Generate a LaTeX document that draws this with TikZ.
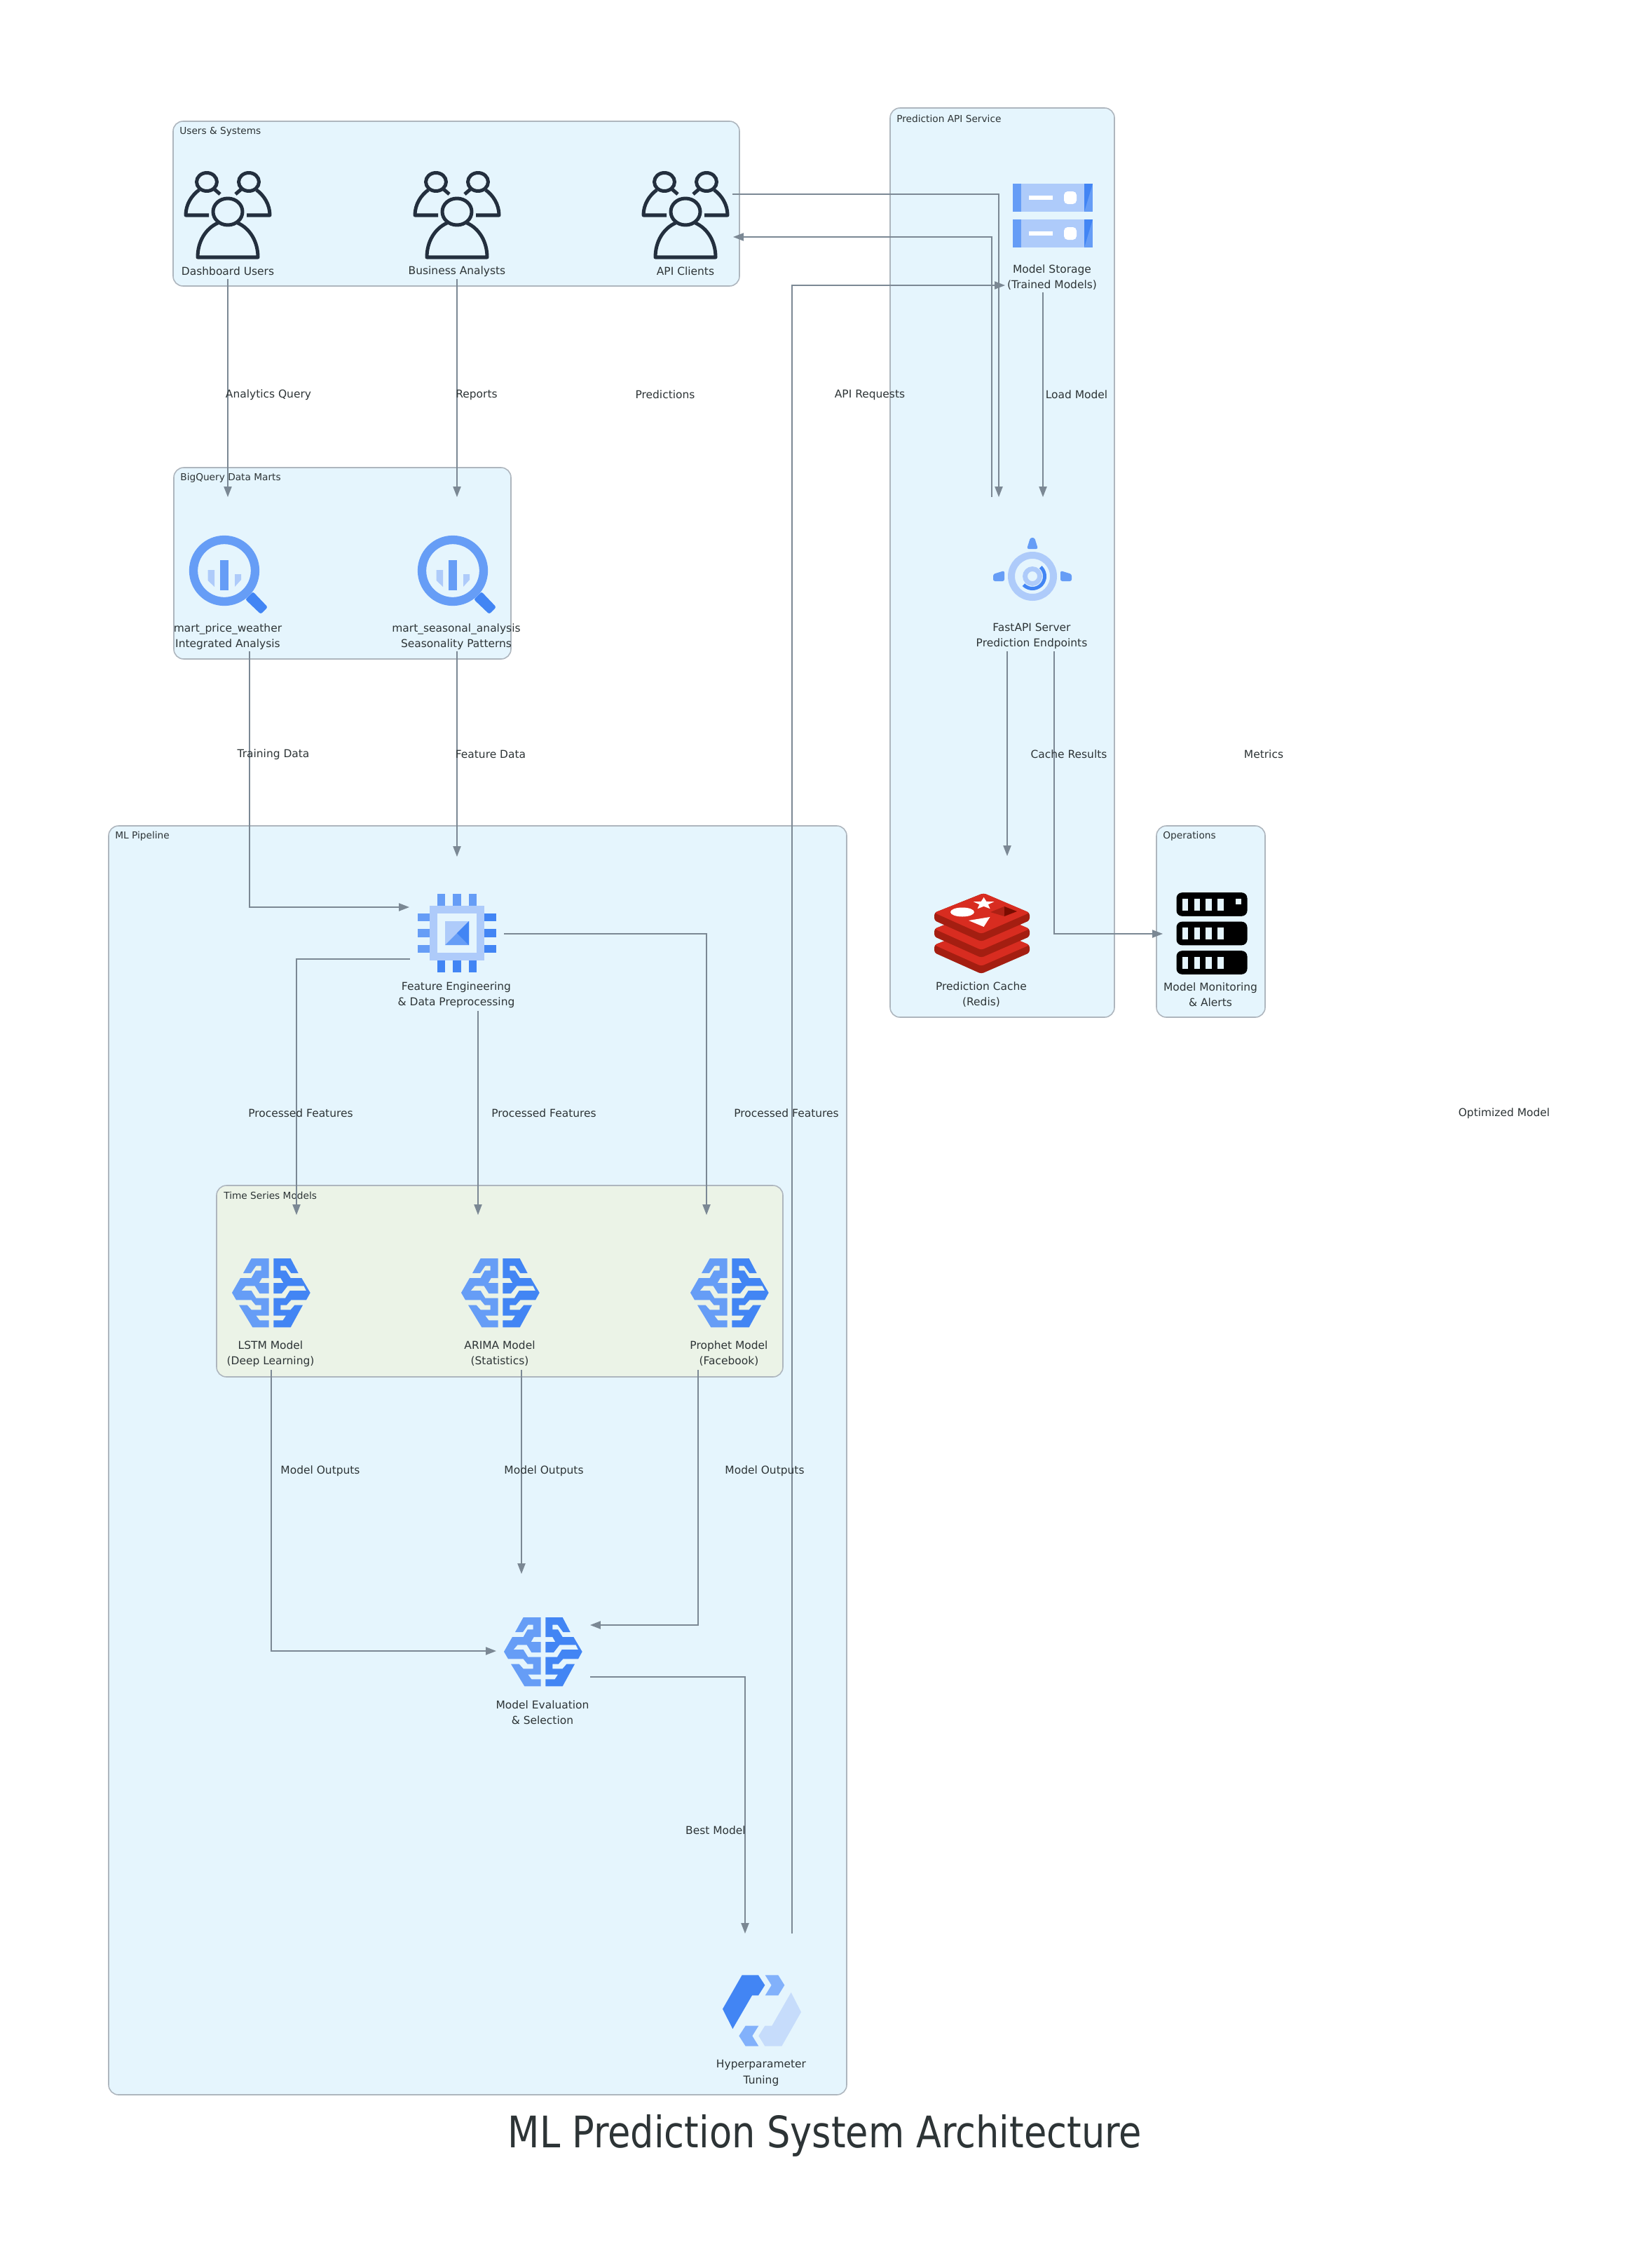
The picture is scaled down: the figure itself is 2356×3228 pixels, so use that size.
\documentclass[tikz,border=0pt]{standalone}
\usepackage{fontspec}
\usetikzlibrary{arrows.meta}
\setmainfont{DejaVu Sans}
\newfontfamily\titlefont[FakeStretch=0.848]{DejaVu Sans}
\definecolor{clbg}{HTML}{E5F5FD}
\definecolor{clgreen}{HTML}{EBF3E7}
\definecolor{clborder}{HTML}{AEB6BE}
\definecolor{edgecol}{HTML}{7B8894}
\definecolor{txt}{HTML}{2D3436}
\definecolor{gblue}{HTML}{4285F4}
\definecolor{gmid}{HTML}{669DF6}
\definecolor{glight}{HTML}{AECBFA}
\definecolor{gpale}{HTML}{C6DCFB}
\definecolor{gchev}{HTML}{82B1FB}
\definecolor{people}{HTML}{232F3E}
\definecolor{redisA}{HTML}{D82C20}
\definecolor{redisB}{HTML}{A41E11}
\definecolor{redisC}{HTML}{AD2115}
\definecolor{redisD}{HTML}{7A0C00}
\tikzset{
  cluster/.style={draw=clborder,fill=clbg,line width=0.9pt,rounded corners=8pt},
  clustergreen/.style={cluster,fill=clgreen},
  clusterlabel/.style={anchor=west,inner sep=0pt,text=txt,font=\fontsize{7.8}{10}\selectfont},
  iconlabel/.style={align=center,inner sep=0pt,text=txt,font=\fontsize{8.8}{12.6}\selectfont},
  edgelabel/.style={inner sep=0pt,text=txt,font=\fontsize{8.8}{12.6}\selectfont},
  link/.style={draw=edgecol,line width=0.75pt,-{Triangle[length=8.5pt,width=6.4pt]}},
  peopleicon/.pic={
    \begin{scope}[draw=people,line width=2.85pt,line join=round]
      \draw (-30,-47.5) ellipse [x radius=14.5,y radius=13];
      \draw (30,-47.5) ellipse [x radius=14.5,y radius=13];
      \draw (-27,0) -- (-60,0) .. controls (-60,-15) and (-52,-28) .. (-41,-36);
      \draw (27,0) -- (60,0) .. controls (60,-15) and (52,-28) .. (41,-36);
      \draw (-19,-37) -- (-11,-30);
      \draw (19,-37) -- (11,-30);
      \draw (0,-5) ellipse [x radius=21,y radius=19];
      \draw (-14,11) .. controls (-32,19) and (-43,38) .. (-43,60) -- (43,60) .. controls (43,38) and (32,19) .. (14,11);
    \end{scope}
  },
  bqicon/.pic={
    \fill[gblue,rounded corners=1.5pt] (30,41) -- (52,62) -- (62,52) -- (41,30) -- cycle;
    \draw[gmid,line width=7pt] (0,0) circle [radius=44];
    \fill[gmid] (-6,-15) rectangle (6,28);
    \fill[glight] (-23.5,-1) -- (-14,-1) -- (-14,23) -- (-23.5,14) -- cycle;
    \fill[glight] (15,5) -- (24,5) -- (24,13) -- (15,23) -- cycle;
  },
  storageblock/.pic={
    \fill[glight] (-57,-20) rectangle (57,20);
    \fill[gmid] (-57,-20) rectangle (-45,20);
    \fill[gmid] (45,-20) rectangle (57,20);
    \fill[gblue] (45,-20) -- (57,-20) -- (45,20) -- cycle;
    \fill[white] (-34,-3) rectangle (0,3);
    \fill[white,rounded corners=3pt] (16,-9) rectangle (34,9);
  },
  engineicon/.pic={
    \draw[glight,line width=5.69pt] (0,0) circle [radius=30];
    \draw[glight,line width=3.9pt] (0,0) circle [radius=10.5];
    \draw[gblue,line width=2.85pt] plot[domain=-48:136,samples=30] ({17.5*cos(\x)},{17.5*sin(\x)});
    \fill[gmid,rounded corners=1.5pt] (-8,-39) -- (8,-39) -- (3,-55) -- (-3,-55) -- cycle;
    \fill[gmid,rounded corners=1.5pt] (-40,-8) -- (-40,7) -- (-56,7) -- (-56,-3) -- cycle;
    \fill[gmid,rounded corners=1.5pt] (40,-8) -- (40,7) -- (56,7) -- (56,-3) -- cycle;
  },
  chipicon/.pic={
    \foreach \a in {-22.5,0,22.5}{
      \fill[gmid] ({\a-5.6},-56) rectangle ({\a+5.6},-39);
      \fill[gblue] ({\a-5.6},39) rectangle ({\a+5.6},56);
      \fill[gmid] (-56,{\a-5.6}) rectangle (-39,{\a+5.6});
      \fill[gblue] (39,{\a-5.6}) rectangle (56,{\a+5.6});
    }
    \draw[glight,line width=6.26pt] (-33.5,-33.5) rectangle (33.5,33.5);
    \fill[glight] (-17,-17) rectangle (17,17);
    \fill[gmid] (17,17) -- (-17,17) -- (17,-17) -- cycle;
    \fill[gblue] (17,-17) -- (17,17) -- (0,0) -- cycle;
  },
  brainicon/.pic={
    \begin{scope}[x=0.00667cm,y=-0.00667cm,shift={(-195,-197)}]
      \fill[gmid] (110,50) -- (185,50) -- (185,134) -- (155,134) -- (143,155) -- (185,155) -- (185,200) -- (145,200) -- (125,168) -- (85,168) -- (68,188) -- (110,188) -- (130,220) -- (185,220) -- (185,295) -- (130,295) -- (145,315) -- (185,315) -- (185,345) -- (115,345) -- (57,250) -- (92,250) -- (110,270) -- (152,270) -- (152,250) -- (128,250) -- (110,228) -- (45,228) -- (27,197) -- (63,134) -- (110,134) -- (128,102) -- (152,102) -- (152,82) -- (130,82) -- (108,113) -- (75,113) -- cycle;
      \fill[gblue] (205,50) -- (278,50) -- (311,113) -- (280,113) -- (257,82) -- (235,82) -- (235,102) -- (258,102) -- (278,134) -- (325,134) -- (362,197) -- (345,228) -- (280,228) -- (260,250) -- (235,250) -- (235,270) -- (278,270) -- (295,250) -- (330,250) -- (278,345) -- (205,345) -- (205,315) -- (245,315) -- (258,295) -- (205,295) -- (205,220) -- (255,220) -- (275,188) -- (345,188) -- (335,168) -- (265,168) -- (240,200) -- (205,200) -- (205,155) -- (247,155) -- (235,134) -- (205,134) -- cycle;
    \end{scope}
  },
  cycleicon/.pic={
    \begin{scope}[x=0.00667cm,y=-0.00667cm,shift={(-380,-444)}]
      \fill[gblue] (295,292) -- (365,292) -- (393,335) -- (365,379) -- (338,379) -- (255,522) -- (212,437) -- cycle;
      \fill[gpale] (505,366) -- (548,450) -- (465,596) -- (393,596) -- (366,552) -- (393,509) -- (423,509) -- cycle;
      \fill[gchev] (394,292) -- (450,292) -- (477,335) -- (450,379) -- (394,379) -- (421,335) -- cycle;
      \fill[gchev] (310,509) -- (366,509) -- (339,552) -- (366,596) -- (310,596) -- (282,552) -- cycle;
    \end{scope}
  },
  redisicon/.pic={
    \foreach \d in {46,23,0}{
      \fill[redisB,rounded corners=2pt] (-68,{-29+\d}) -- (-68,{-18+\d}) -- (-1,{12+\d}) -- (68,{-18+\d}) -- (68,{-29+\d}) -- (2,{-57+\d}) -- cycle;
      \fill[redisA,rounded corners=2pt] (2.6,{-57+\d}) -- (-68,{-29+\d}) -- (-1,{1+\d}) -- (68,{-29+\d}) -- cycle;
    }
    \fill[white] (2.6,-51) -- (6.4,-45.1) -- (17.3,-44.8) -- (8.8,-40.8) -- (11.7,-34.7) -- (2.6,-38.2) -- (-6.5,-34.7) -- (-3.6,-40.8) -- (-12.1,-44.8) -- (-1.2,-45.1) -- cycle;
    \fill[white] (-28,-30) ellipse [x radius=17,y radius=6.5];
    \fill[white] (-19,-18) -- (11.5,-23) -- (2.6,-9) -- cycle;
    \fill[redisC] (12,-30) -- (32,-38) -- (32,-24) -- cycle;
    \fill[redisD] (32,-38) -- (50,-31) -- (32,-24) -- cycle;
  },
  monitoricon/.pic={
    \foreach \b in {-41.5,0,41.5}{
      \fill[black,rounded corners=4.5pt] (-50.5,{\b-16.8}) rectangle (50.5,{\b+16.8});
      \foreach \c in {-42.5,-25.5,-9,8}{
        \fill[clbg] (\c,{\b-8.5}) rectangle ({\c+8.5},{\b+8.5});
      }
    }
    \fill[clbg] (33.5,-50) rectangle (42,-42);
  }
}
\begin{document}
\begin{tikzpicture}[x=0.02cm,y=-0.02cm]
\useasboundingbox (0,0) rectangle (2356,3228);
\fill[white] (0,0) rectangle (2356,3228);

% clusters
\draw[cluster] (247,173) rectangle (1055,408);
\node[clusterlabel] (c-users) at (256,188) {Users \& Systems};
\draw[cluster] (1270,154) rectangle (1590,1451);
\node[clusterlabel] (c-api) at (1279,169) {Prediction API Service};
\draw[cluster] (248,667) rectangle (729,940);
\node[clusterlabel] (c-marts) at (257,682) {BigQuery Data Marts};
\draw[cluster] (155,1178) rectangle (1208,2988);
\node[clusterlabel] (c-ml) at (164,1193) {ML Pipeline};
\draw[cluster] (1650,1178) rectangle (1805,1451);
\node[clusterlabel] (c-ops) at (1659,1193) {Operations};
\draw[clustergreen] (309,1691) rectangle (1117,1964);
\node[clusterlabel] (c-ts) at (319,1705) {Time Series Models};

% icons
\pic (i-dash) at (325,307) {peopleicon};
\pic (i-biz) at (652,307) {peopleicon};
\pic (i-apic) at (978,307) {peopleicon};
\pic (i-m1) at (320,814) {bqicon};
\pic (i-m2) at (646,814) {bqicon};
\pic (i-st1) at (1502,282) {storageblock};
\pic (i-st2) at (1502,333) {storageblock};
\pic (i-fast) at (1473,822) {engineicon};
\pic (i-redis) at (1401,1331) {redisicon};
\pic (i-mon) at (1729,1331.5) {monitoricon};
\pic (i-chip) at (652,1331) {chipicon};
\pic (i-lstm) at (387,1844) {brainicon};
\pic (i-arima) at (714,1844) {brainicon};
\pic (i-prophet) at (1041,1844) {brainicon};
\pic (i-eval) at (775,2356) {brainicon};
\pic (i-hyper) at (1087,2868) {cycleicon};

% icon labels
\node[iconlabel] (n-dash) at (325,387) {Dashboard Users};
\node[iconlabel] (n-biz) at (652,387) {Business Analysts};
\node[iconlabel] (n-apic) at (978,387) {API Clients};
\node[iconlabel] (n-m1) at (325,908.5) {mart\_price\_weather\\Integrated Analysis};
\node[iconlabel] (n-m2) at (651,908.5) {mart\_seasonal\_analysis\\Seasonality Patterns};
\node[iconlabel] (n-st) at (1501,395.5) {Model Storage\\(Trained Models)};
\node[iconlabel] (n-fast) at (1472,907.5) {FastAPI Server\\Prediction Endpoints};
\node[iconlabel] (n-redis) at (1400,1419) {Prediction Cache\\(Redis)};
\node[iconlabel] (n-mon) at (1727,1419) {Model Monitoring\\\& Alerts};
\node[iconlabel] (n-chip) at (651,1419.5) {Feature Engineering\\\& Data Preprocessing};
\node[iconlabel] (n-lstm) at (386,1931) {LSTM Model\\(Deep Learning)};
\node[iconlabel] (n-arima) at (713,1931) {ARIMA Model\\(Statistics)};
\node[iconlabel] (n-prophet) at (1040,1931) {Prophet Model\\(Facebook)};
\node[iconlabel] (n-eval) at (774,2443) {Model Evaluation\\\& Selection};
\node[iconlabel] (n-hyper) at (1086,2957) {Hyperparameter\\Tuning};

% connector ends
\coordinate (p-dash) at (325,398);
\coordinate (p-m1in) at (325,709);
\coordinate (p-biz) at (652,398);
\coordinate (p-m2in) at (652,709);
\coordinate (p-apiout) at (1045,277);
\coordinate (p-apiinb) at (1425,709);
\coordinate (p-fastout) at (1415,709);
\coordinate (p-apicin) at (1046,338);
\coordinate (p-hyout) at (1130,2758);
\coordinate (p-stin) at (1434,407);
\coordinate (p-stout) at (1488,417);
\coordinate (p-fastin) at (1488,709);
\coordinate (p-fc) at (1437,929);
\coordinate (p-redisin) at (1437,1221);
\coordinate (p-fm) at (1504,929);
\coordinate (p-monin) at (1659,1332);
\coordinate (p-m1out) at (356,929);
\coordinate (p-chipin1) at (584,1294);
\coordinate (p-m2out) at (652,929);
\coordinate (p-chipin2) at (652,1222);
\coordinate (p-c1) at (585,1368);
\coordinate (p-lstmin) at (423,1733);
\coordinate (p-c2) at (682,1442);
\coordinate (p-arimain) at (682,1733);
\coordinate (p-c3) at (719,1332);
\coordinate (p-prophetin) at (1008,1733);
\coordinate (p-lout) at (387,1954);
\coordinate (p-evalin1) at (708,2355);
\coordinate (p-aout) at (744,1954);
\coordinate (p-evalin2) at (744,2245);
\coordinate (p-pout) at (996,1954);
\coordinate (p-evalin3) at (842,2318);
\coordinate (p-evout) at (842,2392);
\coordinate (p-hyin) at (1063,2758);

% connectors
\draw[link] (p-dash) -- (p-m1in);
\draw[link] (p-biz) -- (p-m2in);
\draw[link] (p-apiout) -| (p-apiinb);
\draw[link] (p-fastout) |- (p-apicin);
\draw[link] (p-hyout) |- (p-stin);
\draw[link] (p-stout) -- (p-fastin);
\draw[link] (p-fc) -- (p-redisin);
\draw[link] (p-fm) |- (p-monin);
\draw[link] (p-m1out) |- (p-chipin1);
\draw[link] (p-m2out) -- (p-chipin2);
\draw[link] (p-c1) -| (p-lstmin);
\draw[link] (p-c2) -- (p-arimain);
\draw[link] (p-c3) -| (p-prophetin);
\draw[link] (p-lout) |- (p-evalin1);
\draw[link] (p-aout) -- (p-evalin2);
\draw[link] (p-pout) |- (p-evalin3);
\draw[link] (p-evout) -| (p-hyin);

% connector labels
\node[edgelabel] (e-1) at (383,563) {Analytics Query};
\node[edgelabel] (e-2) at (680,563) {Reports};
\node[edgelabel] (e-3) at (949,563) {Predictions};
\node[edgelabel] (e-4) at (1241,563) {API Requests};
\node[edgelabel] (e-5) at (1536,563) {Load Model};
\node[edgelabel] (e-6) at (390,1076) {Training Data};
\node[edgelabel] (e-7) at (700,1076) {Feature Data};
\node[edgelabel] (e-8) at (1525,1076) {Cache Results};
\node[edgelabel] (e-9) at (1803,1076) {Metrics};
\node[edgelabel] (e-10) at (429,1588) {Processed Features};
\node[edgelabel] (e-11) at (776,1588) {Processed Features};
\node[edgelabel] (e-12) at (1122,1588) {Processed Features};
\node[edgelabel] (e-13) at (2146,1588) {Optimized Model};
\node[edgelabel] (e-14) at (457,2098) {Model Outputs};
\node[edgelabel] (e-15) at (776,2098) {Model Outputs};
\node[edgelabel] (e-16) at (1091,2098) {Model Outputs};
\node[edgelabel] (e-17) at (1021,2611) {Best Model};

\node[inner sep=0pt,text=txt,font=\titlefont\fontsize{35.3}{40}\selectfont] (title) at (1177,3046) {ML Prediction System Architecture};
\end{tikzpicture}
\end{document}
